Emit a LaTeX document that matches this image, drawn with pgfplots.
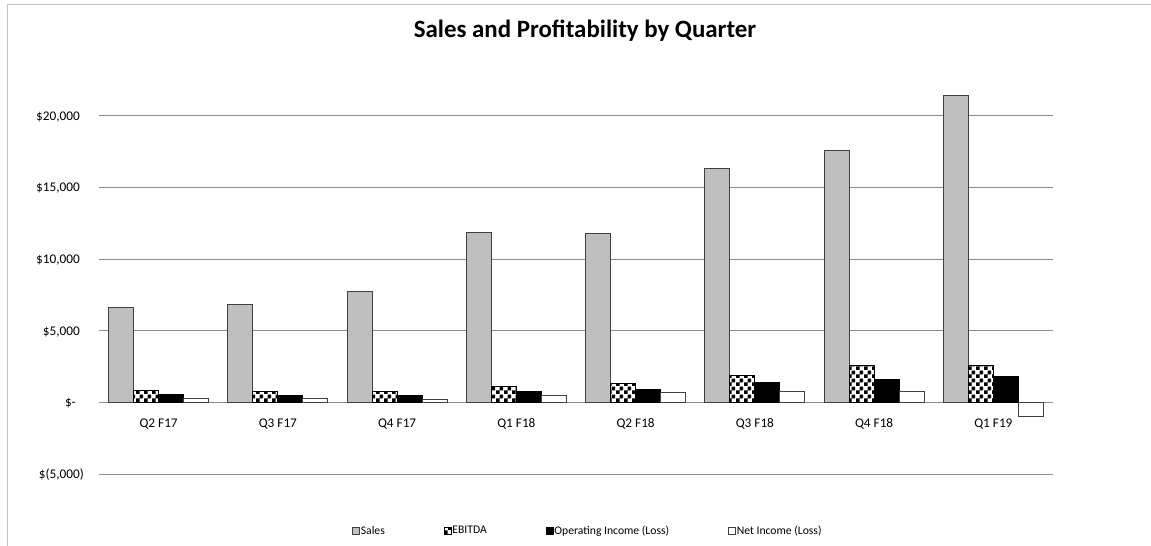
\documentclass[border=0pt]{standalone}
\usepackage{pgfplots}
\pgfplotsset{compat=1.18}
\usepackage{fontspec}
\setmainfont{Carlito}
\usetikzlibrary{patterns}
\pgfdeclarepatternformonly{bigchecker}{\pgfpointorigin}{\pgfqpoint{8bp}{8bp}}{\pgfqpoint{8bp}{8bp}}{%
  \pgfpathrectangle{\pgfpointorigin}{\pgfqpoint{4bp}{4bp}}%
  \pgfpathrectangle{\pgfqpoint{4bp}{4bp}}{\pgfqpoint{4bp}{4bp}}%
  \pgfusepath{fill}}
\definecolor{salesfill}{HTML}{BFBFBF}
\definecolor{edge}{HTML}{404040}
\definecolor{gridc}{HTML}{8C8C8C}
\definecolor{framec}{HTML}{BFBFBF}
\newcommand{\ytl}[1]{\fontsize{13.3}{16}\selectfont #1\hspace*{15bp}}

\begin{document}
\begin{tikzpicture}
\path[use as bounding box] (0,0) rectangle (1151bp,546bp);
\draw[framec, line width=1.3bp] (7.3bp,0) -- (7.3bp,541.3bp) -- (1151bp,541.3bp);
\node[anchor=base, inner sep=0pt, font=\bfseries\fontsize{25}{30}\selectfont] at (585bp,508bp) {Sales and Profitability by Quarter};
\begin{axis}[
  at={(99bp,72bp)}, anchor=south west,
  scale only axis, width=954bp, height=429.8bp,
  xmin=-0.5, xmax=7.5, ymin=-5000, ymax=25000,
  axis line style={draw=none},
  major tick length=0pt,
  scaled ticks=false,
  ymajorgrids, grid style={gridc, line width=1bp},
  ybar=0pt, bar width=25bp,
  xtick={0,1,2,3,4,5,6,7},
  xticklabels={Q2 F17,Q3 F17,Q4 F17,Q1 F18,Q2 F18,Q3 F18,Q4 F18,Q1 F19},
  xticklabel style={anchor=base, inner sep=0pt, yshift=46.7bp, font=\fontsize{13.3}{16}\selectfont},
  ytick={-5000,0,5000,10000,15000,20000},
  yticklabels={{\ytl{\$(5,000)}},{\ytl{\$-\hspace{4bp}\phantom{)}}},{\ytl{\$5,000\phantom{)}}},{\ytl{\$10,000\phantom{)}}},{\ytl{\$15,000\phantom{)}}},{\ytl{\$20,000\phantom{)}}}},
  yticklabel style={anchor=base east, inner sep=0pt, yshift=-4.3bp},
  legend columns=4,
  legend style={at={(0.512,-0.1326)}, anchor=center, draw=none, fill=none,
    font=\fontsize{11.7}{14}\selectfont,
    nodes={inner sep=1bp},
    /tikz/every even column/.append style={column sep=58bp}},
  legend image code/.code={\draw[#1, line width=0.6bp] (0bp,-3.5bp) rectangle (7bp,3.5bp);},
]
\addplot[fill=salesfill, draw=edge, line width=1bp] coordinates {
(0,6600) (1,6810) (2,7720) (3,11830) (4,11770) (5,16300) (6,17570) (7,21440)};
\addplot[fill=white, draw=black, line width=1bp, postaction={pattern=bigchecker, pattern color=black}] coordinates {
(0,815) (1,745) (2,745) (3,1075) (4,1305) (5,1885) (6,2560) (7,2560)};
\addplot[fill=black, draw=black, line width=1bp] coordinates {
(0,515) (1,445) (2,470) (3,725) (4,885) (5,1375) (6,1600) (7,1840)};
\addplot[fill=white, draw=edge, line width=1bp] coordinates {
(0,280) (1,280) (2,210) (3,445) (4,655) (5,780) (6,725) (7,-975)};
\legend{Sales,EBITDA,Operating Income (Loss),Net Income (Loss)}
\end{axis}
\end{tikzpicture}
\end{document}
